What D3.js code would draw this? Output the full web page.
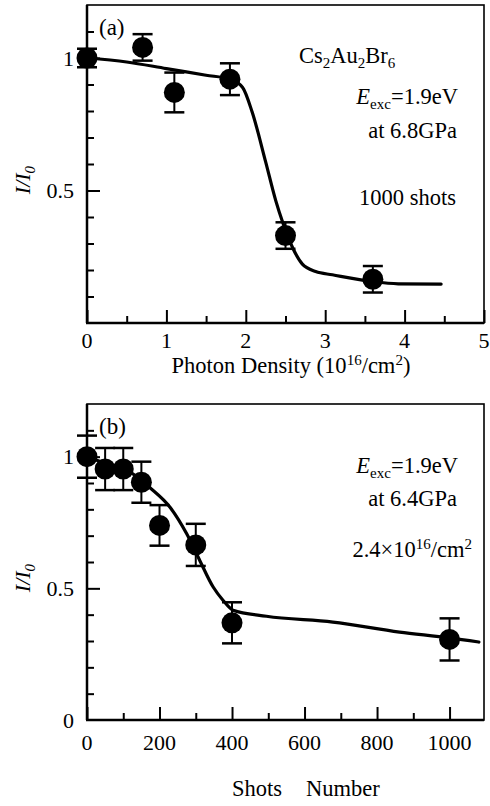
<!DOCTYPE html>
<html>
<head>
<meta charset="utf-8">
<script src="https://cdnjs.cloudflare.com/ajax/libs/d3/7.8.5/d3.min.js"></script>
<style>
  body { margin: 0; background: #fff; }
  svg { display: block; }
  text { font-family: "Liberation Serif", "DejaVu Serif", serif; fill: #000; }
</style>
</head>
<body>
<div id="draw"></div>
<script>
// panel (a): I/I0 vs photon density
var densityX = [0, 0.7, 1.1, 1.8, 2.5, 3.6];
var densityY = [1.0, 1.04, 0.87, 0.92, 0.33, 0.165];
var densityErr = [0.035, 0.05, 0.075, 0.06, 0.05, 0.05];
var densityFitX = [0, 0.5, 1.0, 1.5, 1.8, 1.96, 2.08, 2.25, 2.38, 2.46, 2.59, 2.71, 2.88, 3.09, 3.6, 3.92, 4.46];
var densityFitY = [1.0, 0.985, 0.96, 0.935, 0.92, 0.889, 0.796, 0.608, 0.459, 0.384, 0.284, 0.223, 0.194, 0.182, 0.156, 0.148, 0.147];
var densityTicks = [0, 1, 2, 3, 4, 5];

// panel (b): I/I0 vs number of shots
var shotsX = [0, 50, 100, 150, 200, 300, 400, 1000];
var shotsY = [1.0, 0.953, 0.953, 0.903, 0.739, 0.665, 0.369, 0.306];
var shotsErr = [0.08, 0.08, 0.08, 0.078, 0.077, 0.08, 0.078, 0.08];
var shotsFitX = [0, 60, 120, 173, 229, 275, 311, 348, 375, 403, 495, 678, 862, 1000, 1081];
var shotsFitY = [1.0, 0.97, 0.94, 0.883, 0.808, 0.707, 0.606, 0.505, 0.455, 0.417, 0.394, 0.372, 0.334, 0.312, 0.296];
var shotsTicks = [0, 200, 400, 600, 800, 1000];

var yTicks = [0.5, 1];

var svg = d3.select('#draw').append('svg').attr('width', 490).attr('height', 806);

function panel(o) {
  var x = d3.scaleLinear().domain(o.xDomain).range([87, 484]);
  var y = d3.scaleLinear().domain([0, 1.2]).range([o.bottom, o.top]);
  var g = svg.append('g');

  // frame
  g.append('rect').attr('x', 87).attr('y', o.top).attr('width', 484 - 87).attr('height', o.bottom - o.top)
    .attr('fill', 'none').attr('stroke', '#000').attr('stroke-width', 1.6);
  g.append('line').attr('x1', 87).attr('x2', 87).attr('y1', o.top).attr('y2', o.bottom).attr('stroke', '#000').attr('stroke-width', 2.5);
  g.append('line').attr('x1', 86).attr('x2', 484).attr('y1', o.bottom).attr('y2', o.bottom).attr('stroke', '#000').attr('stroke-width', 2.5);

  // x ticks, inward
  var xMajor = d3.axisBottom(x).tickValues(o.xTicks).tickSize(-13).tickFormat('');
  var xMinor = d3.axisBottom(x).tickValues(o.xMinor).tickSize(-7).tickFormat('');
  [xMajor, xMinor].forEach(function(ax) {
    var a = g.append('g').attr('transform', 'translate(0,' + o.bottom + ')').call(ax);
    a.select('.domain').remove();
    a.selectAll('line').attr('stroke', '#000').attr('stroke-width', 2);
  });
  g.selectAll('.xlab').data(o.xTicks).enter().append('text')
    .attr('x', function(d) { return x(d); }).attr('y', o.bottom + o.labOff)
    .attr('text-anchor', 'middle').style('font-size', '22px').text(function(d) { return d; });

  // y ticks, inward
  var yMinorVals = d3.range(1, 12).map(function(d) { return d / 10; }).filter(function(d) { return Math.abs(d - 0.5) > 1e-6 && Math.abs(d - 1) > 1e-6; });
  var yMajor = d3.axisLeft(y).tickValues(yTicks).tickSize(-13).tickFormat('');
  var yMinor = d3.axisLeft(y).tickValues(yMinorVals).tickSize(-7).tickFormat('');
  [yMajor, yMinor].forEach(function(ax) {
    var a = g.append('g').attr('transform', 'translate(87,0)').call(ax);
    a.select('.domain').remove();
    a.selectAll('line').attr('stroke', '#000').attr('stroke-width', 2);
  });
  g.selectAll('.ylab').data(o.yLabels).enter().append('text')
    .attr('x', 74).attr('y', function(d) { return y(d); }).attr('dy', '0.35em')
    .attr('text-anchor', 'end').style('font-size', '22px').text(function(d) { return d; });

  // y title I/I0
  var yt = g.append('text').attr('transform', 'translate(30,' + o.yTitleY + ') rotate(-90)')
    .attr('text-anchor', 'middle').style('font-size', '22px');
  yt.append('tspan').style('font-style', 'italic').text('I/I');
  yt.append('tspan').attr('dy', 5).style('font-size', '15px').style('font-style', 'italic').text('0');

  // fit curve
  var line = d3.line().x(function(d) { return x(d[0]); }).y(function(d) { return y(d[1]); }).curve(d3.curveMonotoneX);
  g.append('path').datum(d3.zip(o.fitX, o.fitY)).attr('d', line)
    .attr('fill', 'none').attr('stroke', '#000').attr('stroke-width', 3.2).attr('stroke-linecap', 'round');

  // error bars + points
  var pts = d3.zip(o.px, o.py, o.pe);
  var eb = g.selectAll('.eb').data(pts).enter().append('g');
  eb.append('line').attr('x1', function(d) { return x(d[0]); }).attr('x2', function(d) { return x(d[0]); })
    .attr('y1', function(d) { return y(d[1] + d[2]); }).attr('y2', function(d) { return y(d[1] - d[2]); })
    .attr('stroke', '#000').attr('stroke-width', 2);
  [1, -1].forEach(function(s) {
    eb.append('line').attr('x1', function(d) { return x(d[0]) - 10; }).attr('x2', function(d) { return x(d[0]) + 10; })
      .attr('y1', function(d) { return y(d[1] + s * d[2]); }).attr('y2', function(d) { return y(d[1] + s * d[2]); })
      .attr('stroke', '#000').attr('stroke-width', 2.5);
  });
  g.selectAll('.pt').data(pts).enter().append('circle')
    .attr('cx', function(d) { return x(d[0]); }).attr('cy', function(d) { return y(d[1]); })
    .attr('r', 10.5).attr('fill', '#000');
  return g;
}

var ga = panel({
  top: 5, bottom: 323, xDomain: [0, 5], xTicks: densityTicks, xMinor: [0.5, 1.5, 2.5, 3.5, 4.5],
  labOff: 25, yLabels: [0.5, 1], yTitleY: 180,
  fitX: densityFitX, fitY: densityFitY, px: densityX, py: densityY, pe: densityErr
});
var gb = panel({
  top: 404, bottom: 720, xDomain: [0, 1095], xTicks: shotsTicks, xMinor: [100, 300, 500, 700, 900],
  labOff: 30, yLabels: [0, 0.5, 1], yTitleY: 578,
  fitX: shotsFitX, fitY: shotsFitY, px: shotsX, py: shotsY, pe: shotsErr
});

// panel (a) text
ga.append('text').attr('x', 99).attr('y', 35).style('font-size', '23px').text('(a)');
var cs = ga.append('text').attr('x', 299).attr('y', 63).style('font-size', '22.5px');
cs.append('tspan').text('Cs');
cs.append('tspan').attr('dy', 5).style('font-size', '15px').text('2');
cs.append('tspan').attr('dy', -5).text('Au');
cs.append('tspan').attr('dy', 5).style('font-size', '15px').text('2');
cs.append('tspan').attr('dy', -5).text('Br');
cs.append('tspan').attr('dy', 5).style('font-size', '15px').text('6');

function eexc(g, yy) {
  var t = g.append('text').attr('x', 458).attr('y', yy).attr('text-anchor', 'end').style('font-size', '22.5px');
  t.append('tspan').style('font-style', 'italic').text('E');
  t.append('tspan').attr('dy', 5).style('font-size', '15px').text('exc');
  t.append('tspan').attr('dy', -5).text('=1.9eV');
}
eexc(ga, 104);
ga.append('text').attr('x', 457).attr('y', 138).attr('text-anchor', 'end').style('font-size', '22.5px').text('at 6.8GPa');
ga.append('text').attr('x', 456).attr('y', 205).attr('text-anchor', 'end').style('font-size', '22.5px').text('1000 shots');

var xa = ga.append('text').attr('x', 291).attr('y', 373).attr('text-anchor', 'middle').style('font-size', '22.5px');
xa.append('tspan').text('Photon Density (10');
xa.append('tspan').attr('dy', -8).style('font-size', '15px').text('16');
xa.append('tspan').attr('dy', 8).text('/cm');
xa.append('tspan').attr('dy', -8).style('font-size', '15px').text('2');
xa.append('tspan').attr('dy', 8).text(')');

// panel (b) text
gb.append('text').attr('x', 99).attr('y', 434).style('font-size', '23px').text('(b)');
eexc(gb, 473);
gb.append('text').attr('x', 457).attr('y', 506).attr('text-anchor', 'end').style('font-size', '22.5px').text('at 6.4GPa');
var dn = gb.append('text').attr('x', 472).attr('y', 557).attr('text-anchor', 'end').style('font-size', '22.5px');
dn.append('tspan').text('2.4\u00d710');
dn.append('tspan').attr('dy', -8).style('font-size', '15px').text('16');
dn.append('tspan').attr('dy', 8).text('/cm');
dn.append('tspan').attr('dy', -8).style('font-size', '15px').text('2');

var xb = gb.append('text').attr('y', 796).style('font-size', '22.5px');
xb.append('tspan').attr('x', 232).text('Shots');
xb.append('tspan').attr('x', 306).text('Number');
</script>
</body>
</html>
